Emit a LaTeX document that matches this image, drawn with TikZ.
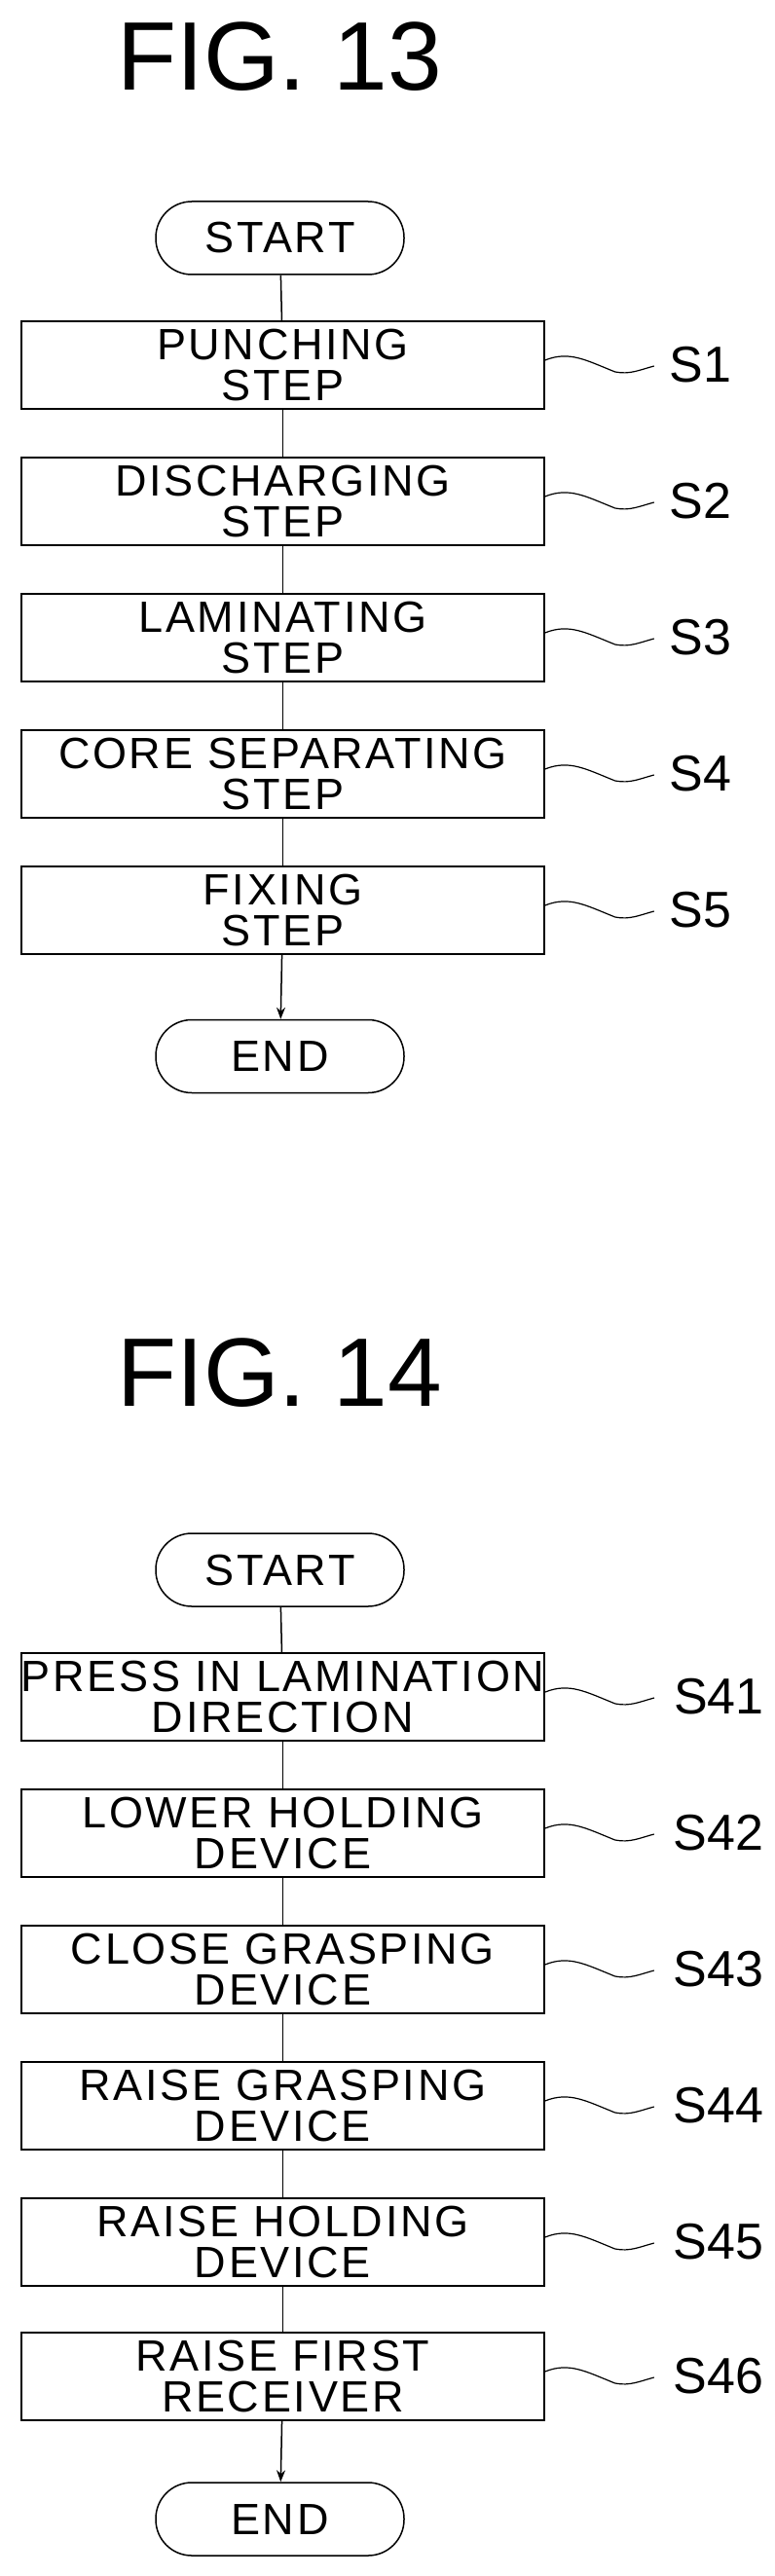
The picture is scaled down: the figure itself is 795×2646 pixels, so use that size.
\documentclass[tikz,border=0pt]{standalone}
\usepackage{fontspec}
\setmainfont{Liberation Sans}
\newfontfamily\boxfont[LetterSpace=6]{Liberation Sans}
\usetikzlibrary{arrows.meta,calc}
\tikzset{
  ln/.style={line width=1.5pt, black},
  stepbox/.style={ln, draw, minimum width=537pt, minimum height=90pt, inner sep=0pt, align=center,
     font=\boxfont\fontsize{45}{42}\selectfont},
  term/.style={ln, draw, minimum width=255pt, minimum height=75pt, rounded corners=37pt, inner sep=0pt,
     font=\boxfont\fontsize{45}{42}\selectfont},
  title/.style={font=\fontsize{100}{100}\selectfont, inner sep=0pt},
  lab/.style={font=\fontsize{52}{52}\selectfont, anchor=west, inner sep=0pt},
  squig/.style={ln, line width=1.2pt}
}
\begin{document}
\begin{tikzpicture}[x=1pt,y=-1pt]
\useasboundingbox (0,0) rectangle (795,2646);
% FIG 13
\node[title] (t13) at (287,58) {FIG. 13};
\node[term] (st13) at (287.5,244.5) {START};
\node[stepbox] (s1) at (290.5,375) {PUNCHING\\STEP};
\node[stepbox] (s2) at (290.5,515) {DISCHARGING\\STEP};
\node[stepbox] (s3) at (290.5,655) {LAMINATING\\STEP};
\node[stepbox] (s4) at (290.5,795) {CORE SEPARATING\\STEP};
\node[stepbox] (s5) at (290.5,935) {FIXING\\STEP};
\node[term] (en13) at (287.5,1085) {END};
\draw[ln] (st13) -- (s1); \draw[ln] (s1) -- (s2); \draw[ln] (s2) -- (s3);
\draw[ln] (s3) -- (s4); \draw[ln] (s4) -- (s5);
\draw[ln,-{Stealth[length=12pt,width=9pt]}] (s5) -- (en13);
\foreach \n/\l in {s1/S1,s2/S2,s3/S3,s4/S4,s5/S5}{
  \coordinate (\n a) at ($(\n.east)+(0,-5)$);
  \draw[squig] (\n a) .. controls +(25,-10) and +(-30,-12) .. ($(\n a)+(72,12)$) .. controls +(15,3) and +(-15,4) .. ($(\n a)+(112,6)$) coordinate (\n b);
  \node[lab] (\n l) at ($(\n.east)+(128,0)$) {\l};
}
% FIG 14
\node[title] (t14) at (287,1410) {FIG. 14};
\node[term] (st14) at (287.5,1612.5) {START};
\node[stepbox] (q1) at (290.5,1743) {PRESS IN LAMINATION\\DIRECTION};
\node[stepbox] (q2) at (290.5,1883) {LOWER HOLDING\\DEVICE};
\node[stepbox] (q3) at (290.5,2023) {CLOSE GRASPING\\DEVICE};
\node[stepbox] (q4) at (290.5,2163) {RAISE GRASPING\\DEVICE};
\node[stepbox] (q5) at (290.5,2303) {RAISE HOLDING\\DEVICE};
\node[stepbox] (q6) at (290.5,2441) {RAISE FIRST\\RECEIVER};
\node[term] (en14) at (287.5,2587.5) {END};
\draw[ln] (st14) -- (q1); \draw[ln] (q1) -- (q2); \draw[ln] (q2) -- (q3);
\draw[ln] (q3) -- (q4); \draw[ln] (q4) -- (q5); \draw[ln] (q5) -- (q6);
\draw[ln,-{Stealth[length=12pt,width=9pt]}] (q6) -- (en14);
\foreach \n/\l in {q1/S41,q2/S42,q3/S43,q4/S44,q5/S45,q6/S46}{
  \coordinate (\n a) at ($(\n.east)+(0,-5)$);
  \draw[squig] (\n a) .. controls +(25,-10) and +(-30,-12) .. ($(\n a)+(72,12)$) .. controls +(15,3) and +(-15,4) .. ($(\n a)+(112,6)$) coordinate (\n b);
  \node[lab] (\n l) at ($(\n.east)+(132,0)$) {\l};
}
\end{tikzpicture}
\end{document}
